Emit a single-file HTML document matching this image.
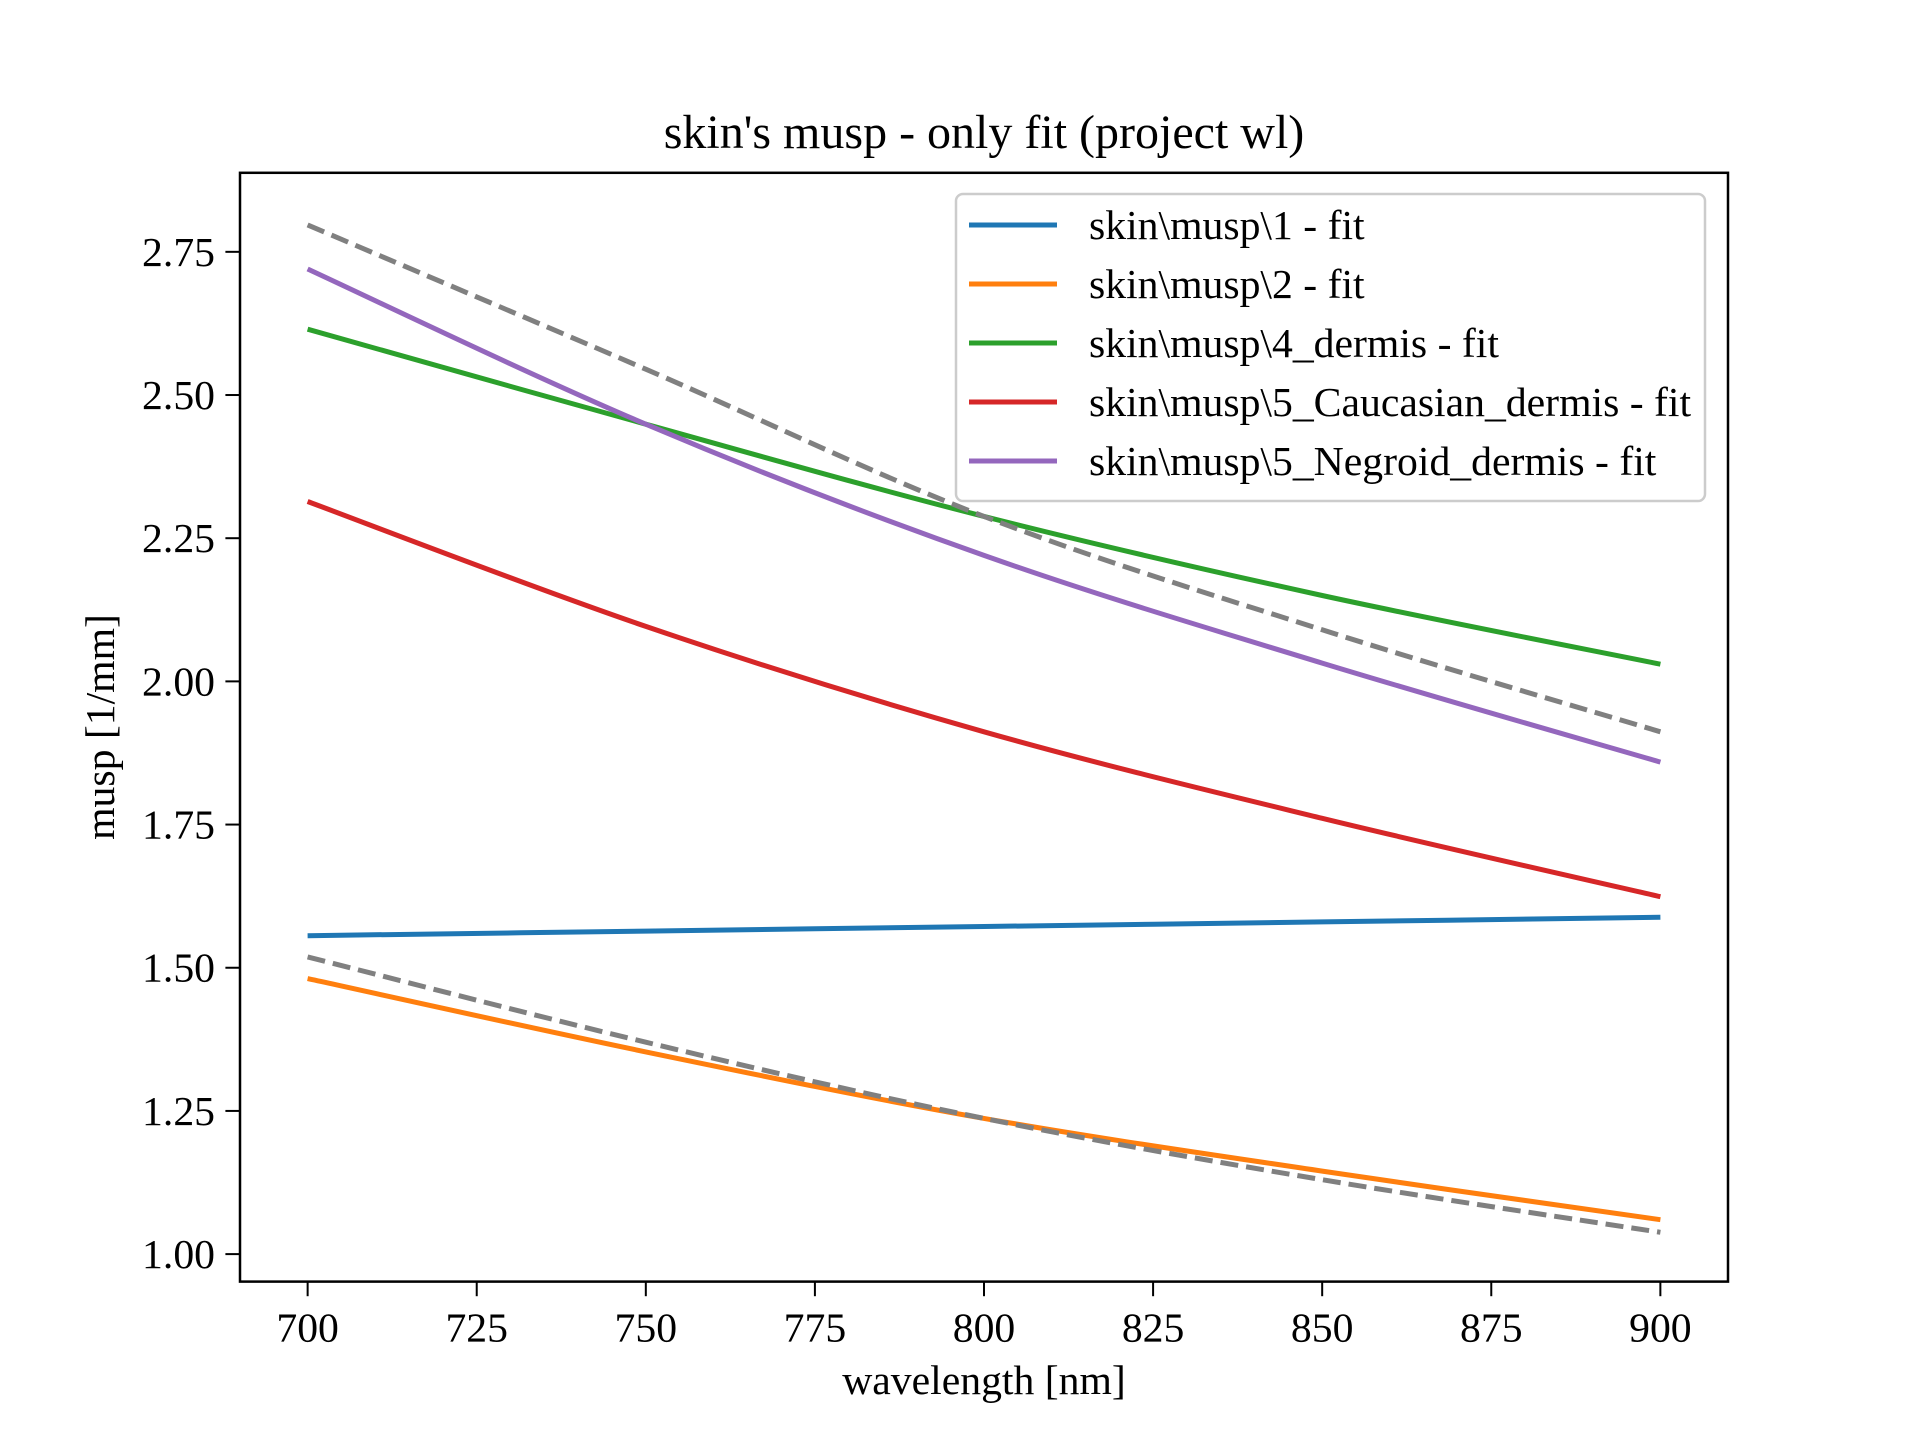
<!DOCTYPE html>
<html><head><meta charset="utf-8"><style>body{margin:0;background:#fff}svg{display:block}text{font-family:"Liberation Serif",serif;fill:#000}</style></head>
<body>
<svg id="chart" width="1920" height="1440" viewBox="0 0 1920 1440" xmlns="http://www.w3.org/2000/svg">
<rect width="1920" height="1440" fill="#fff"/>
<text x="984" y="148" font-size="48" text-anchor="middle">skin's musp - only fit (project wl)</text>
<g id="plot"></g>
<rect x="240" y="172.8" width="1488" height="1108.8" fill="none" stroke="#000" stroke-width="2.5"/>
<g id="ticks"></g>
<text x="984" y="1394" font-size="41.7" text-anchor="middle">wavelength [nm]</text>
<text transform="translate(114,727) rotate(-90)" font-size="41.7" text-anchor="middle">musp [1/mm]</text>
<g id="legend"></g>
</svg>
<script>
const wavelengths = [700, 750, 800, 850, 900];
const s1 = [1.556, 1.564, 1.572, 1.580, 1.588];
const s2 = [1.481, 1.353, 1.237, 1.145, 1.060];
const s4 = [2.615, 2.449, 2.288, 2.150, 2.030];
const s5c = [2.314, 2.096, 1.912, 1.761, 1.624];
const s5n = [2.720, 2.449, 2.220, 2.032, 1.859];
const refHigh = [2.797, 2.545, 2.288, 2.090, 1.912];
const refLow = [1.519, 1.370, 1.237, 1.130, 1.038];
const xTicks = [700, 725, 750, 775, 800, 825, 850, 875, 900];
const yTicks = [1.00, 1.25, 1.50, 1.75, 2.00, 2.25, 2.50, 2.75];
const legendLabels = ["skin\\musp\\1 - fit","skin\\musp\\2 - fit","skin\\musp\\4_dermis - fit","skin\\musp\\5_Caucasian_dermis - fit","skin\\musp\\5_Negroid_dermis - fit"];

const NS="http://www.w3.org/2000/svg";
const L=240,R=1728,T=172.8,B=1281.6,XMIN=690,XMAX=910,YMIN=0.952,YMAX=2.888;
const xs=v=>L+(v-XMIN)/(XMAX-XMIN)*(R-L);
const ys=v=>B-(v-YMIN)/(YMAX-YMIN)*(B-T);
function mk(tag,attrs,parent){const e=document.createElementNS(NS,tag);for(const k in attrs)e.setAttribute(k,attrs[k]);parent.appendChild(e);return e;}
function smoothPath(P){let d='M'+P[0][0].toFixed(1)+','+P[0][1].toFixed(1);
 for(let i=0;i<P.length-1;i++){const p0=P[Math.max(0,i-1)],p1=P[i],p2=P[i+1],p3=P[Math.min(P.length-1,i+2)];
  const c1=[p1[0]+(p2[0]-p0[0])/6,p1[1]+(p2[1]-p0[1])/6],c2=[p2[0]-(p3[0]-p1[0])/6,p2[1]-(p3[1]-p1[1])/6];
  d+=' C'+c1.map(v=>v.toFixed(1)).join(',')+' '+c2.map(v=>v.toFixed(1)).join(',')+' '+p2.map(v=>v.toFixed(1)).join(',');}
 return d;}
const plot=document.getElementById('plot'),ticks=document.getElementById('ticks'),legend=document.getElementById('legend');
const series=[
 {v:refHigh,c:'#808080',d:'18 8',n:'reference-high-dashed'},
 {v:refLow,c:'#808080',d:'18 8',n:'reference-low-dashed'},
 {v:s1,c:'#1f77b4',n:'line-skin-1'},
 {v:s2,c:'#ff7f0e',n:'line-skin-2'},
 {v:s4,c:'#2ca02c',n:'line-skin-4-dermis'},
 {v:s5c,c:'#d62728',n:'line-skin-5-caucasian'},
 {v:s5n,c:'#9467bd',n:'line-skin-5-negroid'}];
[2,3,4,5,6,0,1].forEach(i=>{const s=series[i];
 const P=wavelengths.map((w,j)=>[xs(w),ys(s.v[j])]);
 const p=mk('path',{d:smoothPath(P),fill:'none',stroke:s.c,'stroke-width':5,'stroke-linejoin':'round'},plot);
 if(s.d)p.setAttribute('stroke-dasharray',s.d);
 
 
});
xTicks.forEach(t=>{const x=xs(t);
 const l=mk('line',{x1:x,x2:x,y1:B,y2:B+14.6,stroke:'#000','stroke-width':2},ticks);
 
 
 const tx=mk('text',{x:x,y:B+60,'font-size':41.7,'text-anchor':'middle'},ticks);tx.textContent=t;
 
 
});
yTicks.forEach(t=>{const y=ys(t);
 const l=mk('line',{x1:L-14.6,x2:L,y1:y,y2:y,stroke:'#000','stroke-width':2},ticks);
 
 
 const tx=mk('text',{x:L-25,y:y+14,'font-size':41.7,'text-anchor':'end'},ticks);tx.textContent=t.toFixed(2);
 
 
});
const lb=mk('rect',{x:956,y:194,width:749,height:307,rx:7,fill:'#fff','fill-opacity':0.8,stroke:'#ccc','stroke-width':2.5},legend);


legendLabels.forEach((lab,i)=>{const y=225+i*59;const s=series[i+2];
 const ln=mk('line',{x1:969,x2:1057,y1:y,y2:y,stroke:s.c,'stroke-width':5},legend);
 
 
 const tx=mk('text',{x:1089,y:y+14,'font-size':41.7},legend);tx.textContent=lab;
 
 
});
</script>
</body></html>
